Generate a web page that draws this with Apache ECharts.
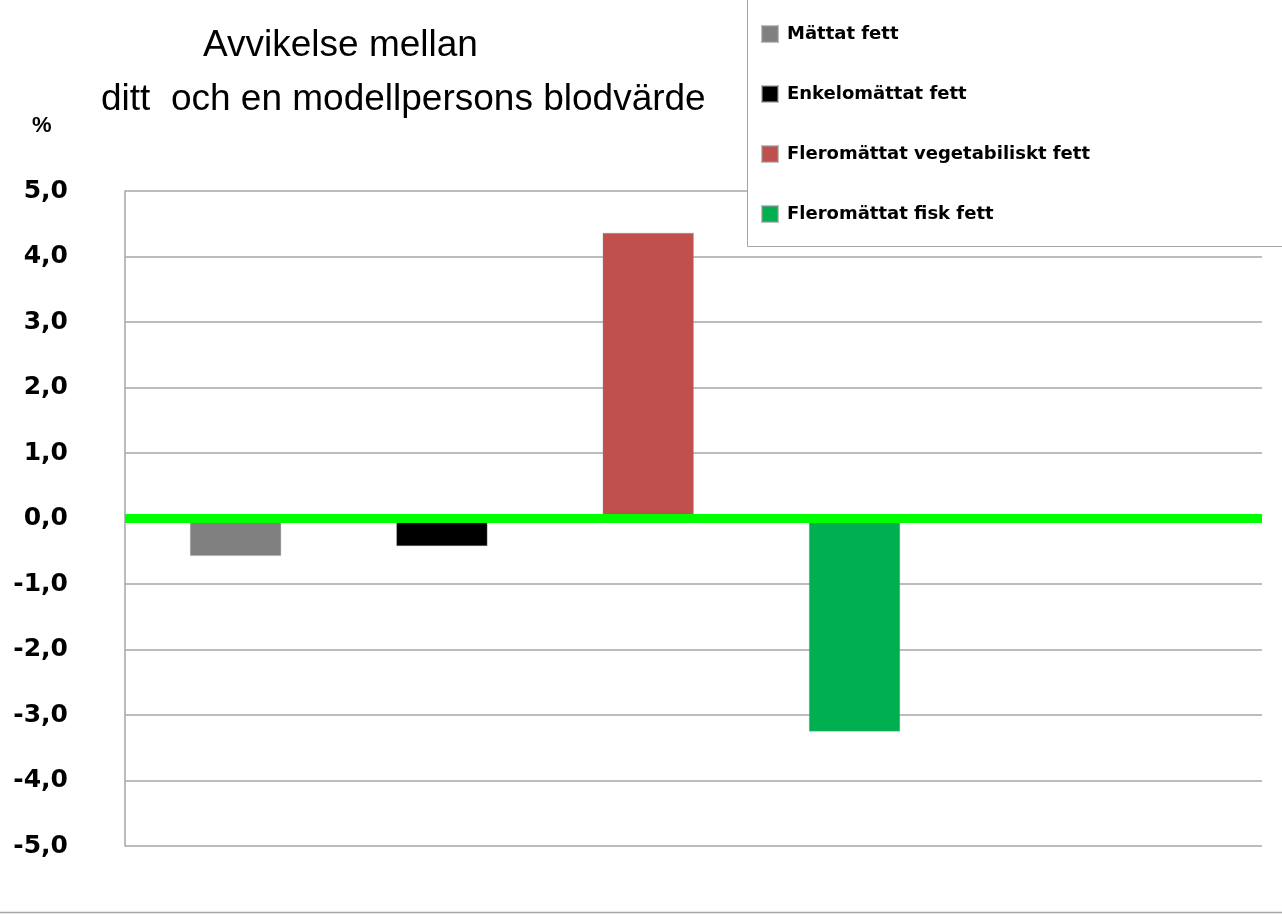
<!DOCTYPE html>
<html>
<head>
<meta charset="utf-8">
<script src="https://cdn.jsdelivr.net/npm/echarts@6/dist/echarts.min.js"></script>
<style>html,body{margin:0;padding:0;background:#fff;}#c{width:1282px;height:914px;}</style>
</head>
<body>
<div id="c"></div>
<script>
// Data
const seriesNames = ['Mättat fett', 'Enkelomättat fett', 'Fleromättat vegetabiliskt fett', 'Fleromättat fisk fett'];
const seriesValues = [-0.57, -0.42, 4.36, -3.25];
const seriesColors = ['#808080', '#000000', '#c0504d', '#00b050'];
const yTicks = ['-5,0', '-4,0', '-3,0', '-2,0', '-1,0', '0,0', '1,0', '2,0', '3,0', '4,0', '5,0'];
const titleLine1 = 'Avvikelse mellan';
const titleLine2 = 'ditt  och en modellpersons blodvärde';
const unitLabel = '%';

const chart = echarts.init(document.getElementById('c'), null, {renderer: 'canvas'});

const series = seriesNames.map((name, i) => ({
  name: name,
  type: 'bar',
  stack: 'all',
  barWidth: 91,
  data: [[i, seriesValues[i]]],
  itemStyle: { color: seriesColors[i], borderColor: 'rgba(150,150,150,0.6)', borderWidth: 0.5 },
  emphasis: { disabled: true }
}));

chart.setOption({
  animation: false,
  backgroundColor: '#ffffff',
  title: [
    { text: titleLine1, left: 203, top: 27, padding: 0,
      textStyle: { fontFamily: 'Liberation Sans', fontSize: 37, fontWeight: 'normal', color: '#000' } },
    { text: titleLine2, left: 101, top: 81, padding: 0,
      textStyle: { fontFamily: 'Liberation Sans', fontSize: 37, fontWeight: 'normal', color: '#000' } },
    { text: unitLabel, left: 32, top: 115, padding: 0,
      textStyle: { fontFamily: 'Liberation Sans', fontSize: 22, fontWeight: 'bold', color: '#000' } }
  ],
  graphic: [
    { type: 'rect', z: 5, shape: { x: 747.5, y: -2, width: 560, height: 248.5 },
      style: { fill: '#ffffff', stroke: '#a6a6a6', lineWidth: 1 } },
    { type: 'line', z: 5, shape: { x1: 0, y1: 912.5, x2: 1282, y2: 912.5 },
      style: { stroke: '#a6a6a6', lineWidth: 1.5 } }
  ],
  legend: {
    z: 10,
    orient: 'vertical',
    left: 761,
    top: 25,
    padding: 0,
    itemWidth: 16,
    itemHeight: 16,
    itemGap: 42,
    icon: 'rect',
    selectedMode: false,
    data: seriesNames,
    textStyle: { fontFamily: 'DejaVu Sans', fontWeight: 'bold', fontSize: 18, lineHeight: 16, color: '#000', padding: [0, 0, 0, 4] }
  },
  grid: { left: 125, right: 20, top: 191, bottom: 68, containLabel: false },
  xAxis: {
    type: 'value',
    min: -0.536,
    max: 4.975,
    z: 10,
    axisLine: { show: true, onZero: true, lineStyle: { color: '#00ff00', width: 9, cap: 'butt' } },
    axisTick: { show: false },
    axisLabel: { show: false },
    splitLine: { show: false }
  },
  yAxis: {
    type: 'value',
    min: -5,
    max: 5,
    interval: 1,
    axisLine: { show: true, onZero: false, lineStyle: { color: '#a6a6a6', width: 1.5 } },
    axisTick: { show: false },
    splitLine: { show: true, lineStyle: { color: '#a6a6a6', width: 1.5 } },
    axisLabel: {
      margin: 57,
      formatter: (v) => yTicks[Math.round(v) + 5],
      fontFamily: 'DejaVu Sans',
      fontWeight: 'bold',
      fontSize: 25,
      color: '#000'
    }
  },
  series: series
});
</script>
</body>
</html>
